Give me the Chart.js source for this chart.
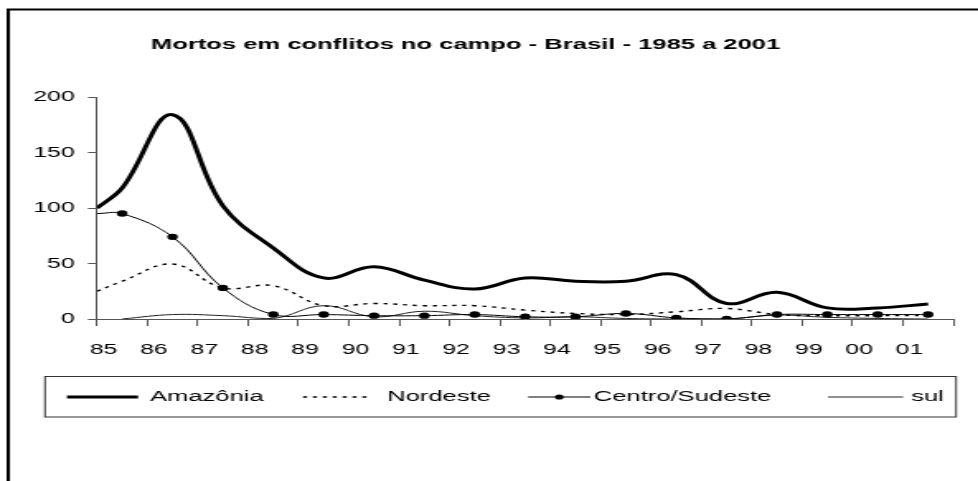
<!DOCTYPE html>
<html lang="pt-BR">
<head>
<meta charset="UTF-8">
<title>Mortos em conflitos no campo - Brasil - 1985 a 2001</title>
<script src="https://cdn.jsdelivr.net/npm/chart.js@4.4.1/dist/chart.umd.min.js"></script>
<style>
  body { margin: 0; background: #fff; }
</style>
</head>
<body>
<!-- o original é esticado na horizontal: o canvas é desenhado estreito e alargado via CSS -->
<canvas id="graficoMortos" width="593" height="481" style="display:block;width:978px;height:481px"></canvas>
<script>
const anos = ['85', '86', '87', '88', '89', '90', '91', '92', '93', '94', '95', '96', '97', '98', '99', '00', '01'];

// primeiro valor = borda esquerda do eixo, depois um valor por ano (centro da categoria)
const amazonia      = [100, 118, 184, 102, 64, 37, 47, 35, 27, 37, 34, 34, 40, 14, 24, 10, 10, 13.5];
const nordeste      = [25, 34, 49.5, 28, 30, 12, 14, 12, 12, 8, 5, 4, 6.5, 9.5, 4, 3, 3, 3];
const centroSudeste = [95, 95, 74, 28, 4, 4, 3, 3, 4, 2, 2, 5, 1, 0, 4, 4, 4, 4];
const sul           = [null, 0, 4, 3, 0.5, 12, 2, 7, 3, 1, 2, 0.5, 0, 0, 3.5, 1.5, 0.5, 0];

const ticksY = [0, 50, 100, 150, 200];

const posicoes = [0, ...anos.map((_, i) => i + 0.5)];
const pontos = valores => valores.map((v, i) => ({ x: posicoes[i], y: v }));

const fonte = 'Liberation Sans, Arial, sans-serif';

const molduraLegenda = {
  id: 'molduraLegenda',
  beforeDraw(chart) {
    const { ctx, width, height } = chart;
    ctx.save();
    ctx.fillStyle = '#fff';
    ctx.fillRect(0, 0, width, height);
    ctx.strokeStyle = '#000';
    ctx.lineWidth = 2;
    ctx.beginPath();
    ctx.moveTo(5, height);
    ctx.lineTo(5, 9.5);
    ctx.lineTo(width, 9.5);
    ctx.stroke();
    ctx.restore();
  },
  afterDraw(chart) {
    const { ctx } = chart;
    ctx.save();

    // titulo
    ctx.fillStyle = '#000';
    ctx.font = `bold 15.5px ${fonte}`;
    ctx.textAlign = 'center';
    ctx.textBaseline = 'middle';
    ctx.fillText('Mortos em conflitos no campo - Brasil - 1985 a 2001', 282.3, 45);

    // legenda com caixa
    ctx.strokeStyle = '#333';
    ctx.lineWidth = 1;
    ctx.strokeRect(27.3, 376.5, 552.4, 40.5);

    const itens = [
      { ds: 0, x1: 40.6, x2: 83.7, tx: 91 },
      { ds: 1, x1: 183.7, x2: 223.8, tx: 234.7 },
      { ds: 2, x1: 320.2, x2: 358, tx: 360 },
      { ds: 3, x1: 502, x2: 547.6, tx: 552.4 }
    ];
    const y = 397;
    ctx.font = `15.5px ${fonte}`;
    ctx.textAlign = 'left';
    itens.forEach(item => {
      const ds = chart.data.datasets[item.ds];
      ctx.strokeStyle = ds.borderColor;
      ctx.lineWidth = ds.borderWidth;
      ctx.setLineDash(ds.borderDash || []);
      ctx.beginPath();
      ctx.moveTo(item.x1, y);
      ctx.lineTo(item.x2, y);
      ctx.stroke();
      ctx.setLineDash([]);
      if (ds.label === 'Centro/Sudeste') {
        ctx.fillStyle = '#000';
        ctx.beginPath();
        ctx.arc((item.x1 + item.x2) / 2, y, 2.6, 0, Math.PI * 2);
        ctx.fill();
      }
      ctx.fillStyle = '#000';
      ctx.fillText(ds.label, item.tx, y);
    });
    ctx.restore();
  }
};

const ctx = document.getElementById('graficoMortos').getContext('2d');
new Chart(ctx, {
  type: 'line',
  data: {
    datasets: [
      {
        label: 'Amazônia',
        data: pontos(amazonia),
        borderColor: '#000',
        borderWidth: 3,
        pointRadius: 0,
        tension: 0.4
      },
      {
        label: 'Nordeste',
        data: pontos(nordeste),
        borderColor: '#000',
        borderWidth: 1.4,
        borderDash: [2.5, 3.5],
        pointRadius: 0,
        tension: 0.4
      },
      {
        label: 'Centro/Sudeste',
        data: pontos(centroSudeste),
        borderColor: '#000',
        borderWidth: 1,
        pointRadius: c => (c.dataIndex === 0 ? 0 : 3.2),
        pointBackgroundColor: '#000',
        pointBorderWidth: 0,
        tension: 0.4
      },
      {
        label: 'sul',
        data: pontos(sul),
        borderColor: '#222',
        borderWidth: 1,
        pointRadius: 0,
        tension: 0.4
      }
    ]
  },
  options: {
    responsive: false,
    animation: false,
    events: [],
    layout: {
      padding: { top: 97, right: 9.7, bottom: 0, left: 0 }
    },
    plugins: {
      legend: { display: false },
      title: { display: false },
      tooltip: { enabled: false }
    },
    scales: {
      x: {
        type: 'linear',
        min: 0,
        max: anos.length,
        afterFit: scale => { scale.height = 162; },
        afterBuildTicks: scale => {
          scale.ticks = [...anos, ''].map((_, i) => ({ value: i }));
        },
        grid: {
          drawOnChartArea: false,
          drawTicks: true,
          tickLength: 7,
          color: '#555'
        },
        border: { color: '#555', width: 1 },
        ticks: {
          autoSkip: false,
          maxRotation: 0,
          padding: 15,
          labelOffset: 4,
          color: '#000',
          font: { family: fonte, size: 15 },
          callback: v => anos[v] ?? ''
        }
      },
      y: {
        min: 0,
        max: 200,
        afterFit: scale => { scale.width = 58.8; },
        afterBuildTicks: scale => {
          scale.ticks = ticksY.map(v => ({ value: v }));
        },
        grid: {
          drawOnChartArea: false,
          drawTicks: true,
          tickLength: 5.5,
          color: '#555'
        },
        border: { color: '#555', width: 1 },
        ticks: {
          padding: 8,
          color: '#000',
          font: { family: fonte, size: 15 }
        }
      }
    }
  },
  plugins: [molduraLegenda]
});
</script>
</body>
</html>
